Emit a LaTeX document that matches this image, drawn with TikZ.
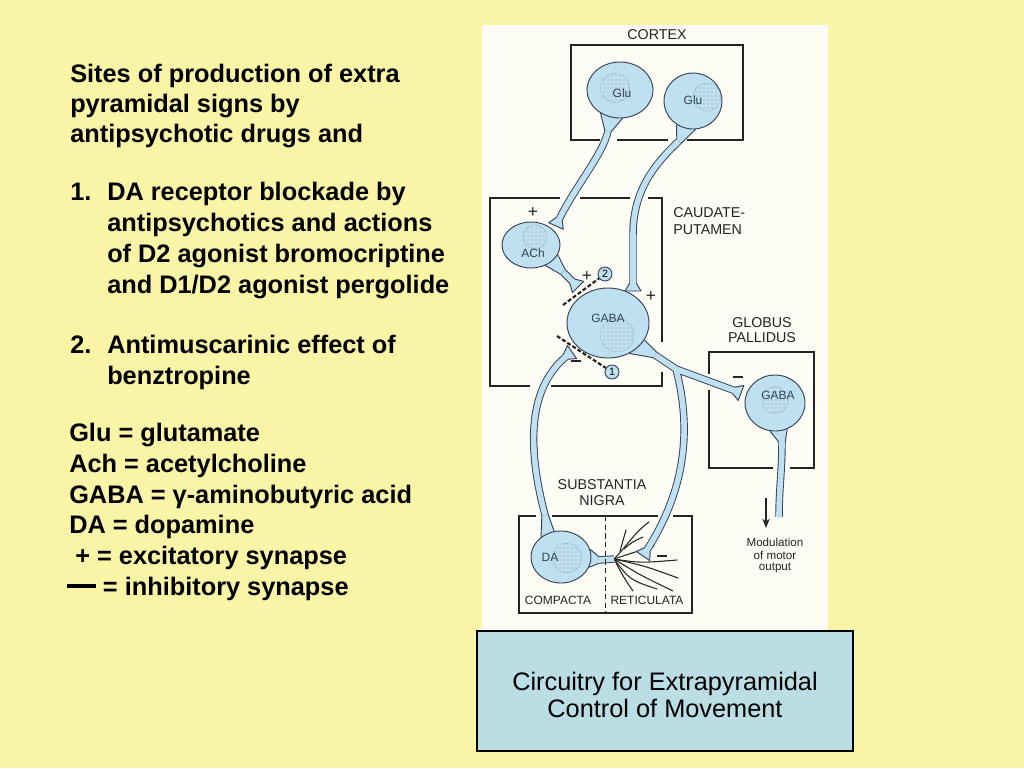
\documentclass[tikz,border=0pt]{standalone}
\usepackage{fontspec}
\setmainfont{Liberation Sans}
\usetikzlibrary{shapes.geometric, calc, patterns, arrows.meta}

\definecolor{bgyellow}{RGB}{249,244,166}
\definecolor{panel}{RGB}{253,253,246}
\definecolor{cellblue}{RGB}{190,224,240}
\definecolor{cellline}{RGB}{55,65,85}
\definecolor{boxline}{RGB}{35,35,35}
\definecolor{captblue}{RGB}{186,222,228}

\pgfdeclarelayer{back}
\pgfdeclarelayer{axon}
\pgfsetlayers{back,axon,main}

\tikzset{
  cell/.style={ellipse, draw=cellline, fill=cellblue, line width=0.7pt, inner sep=0pt},
  celltext/.style={font=\fontsize{9}{10}\selectfont, text=cellline, inner sep=0pt},
  nucleus/.style={draw=cellline!70, densely dotted, line width=0.4pt, pattern=dots, pattern color=cellline!60},
  axon/.style={draw=cellblue, line width=4.2pt, preaction={draw=cellline, line width=5.6pt}},
  dendrite/.style={draw=black!85, line width=0.8pt, line cap=round},
  region/.style={draw=boxline, line width=1pt},
  regtext/.style={font=\fontsize{10.7}{12}\selectfont, text=boxline, inner sep=0pt},
  subtext/.style={font=\fontsize{9}{10}\selectfont, text=boxline, inner sep=0pt},
  modtext/.style={font=\fontsize{8.7}{10}\selectfont, text=boxline, inner sep=0pt},
  sign/.style={font=\fontsize{13}{14}\selectfont, text=boxline, inner sep=0pt},
  site/.style={circle, draw=cellline, fill=cellblue, line width=0.7pt, minimum size=10.5pt, inner sep=0pt, font=\fontsize{8}{9}\selectfont},
  block/.style={draw=boxline, line width=1.6pt, dash pattern=on 3pt off 1.6pt},
  lefttext/.style={anchor=base west, inner sep=0pt, font=\fontsize{19}{22}\selectfont\bfseries},
  capttext/.style={anchor=base, inner sep=0pt, font=\fontsize{19}{22}\selectfont},
  captbox/.style={draw=black, fill=captblue, line width=1pt, minimum width=282pt, minimum height=90pt},
}

% short thick bar for an inhibitory synapse
\newcommand{\inhib}{\rule{7pt}{1.5pt}}
% long bar of the legend
\newcommand{\legbar}{\rule[5.2pt]{21.5pt}{3pt}}

% cone between a cell body and the start of its axon
\newcommand{\hillock}[5]{%
  \fill[cellblue] (#1.#2) -- ($(#4)!2.8pt!-90:(#5)$) -- ($(#4)!2.8pt!90:(#5)$) -- (#1.#3) -- cycle;
  \draw[cellline, line width=0.7pt] (#1.#2) -- ($(#4)!2.45pt!-90:(#5)$) ($(#4)!2.45pt!90:(#5)$) -- (#1.#3);}

% flared axon terminal
\newcommand{\synapse}[2]{%
  \coordinate (sb) at ($(#1)!6pt!(#2)$);
  \fill[cellblue] ($(sb)!2.8pt!90:(#1)$) -- ($(#1)!6pt!-90:(#2)$) -- ($(#1)!6pt!90:(#2)$) -- ($(sb)!2.8pt!-90:(#1)$) -- cycle;
  \draw[cellline, line width=0.7pt, line join=round] ($(sb)!2.45pt!90:(#1)$) -- ($(#1)!6pt!-90:(#2)$) -- ($(#1)!6pt!90:(#2)$) -- ($(sb)!2.45pt!-90:(#1)$);}

\begin{document}
\begin{tikzpicture}[x=0.75pt, y=-0.75pt]
  \useasboundingbox (0,0) rectangle (1024,768);
  \begin{pgfonlayer}{back}
    \fill[bgyellow] (0,0) rectangle (1024,768);
    \fill[panel] (482,25) rectangle (828,640);
  \end{pgfonlayer}

  % Text on the left
  \foreach \x/\y/\txt [count=\i] in {70/82/Sites of production of extra, 70/112/pyramidal signs by, 70/142/antipsychotic drugs and, 70/200/1., 107/200/DA receptor blockade by, 107/231/antipsychotics and actions, 107/262/of D2 agonist bromocriptine, 107/293/{and D1/D2 agonist pergolide}, 70/353/2., 107/353/Antimuscarinic effect of, 107/384/benztropine, 69/441/Glu = glutamate, 69/472/Ach = acetylcholine, 69/503/GABA = γ-aminobutyric acid, 69/533/DA = dopamine, 75/564/+ = excitatory synapse, 67/595/\legbar{} = inhibitory synapse}
    \node[lefttext] (line\i) at (\x,\y) {\txt};

  % Regions
  \draw[region] (600,140) -- (571,140) -- (571,45) -- (743,45) -- (743,140) -- (687,140);
  \draw[region] (617,140) -- (668,140);
  \draw[region] (560,198) -- (490,198) -- (490,386) -- (530,386);
  \draw[region] (580,198) -- (630,198);
  \draw[region] (648,198) -- (662,198) -- (662,342);
  \draw[region] (551,386) -- (662,386) -- (662,372);
  \draw[region] (709,374) -- (709,352) -- (814,352) -- (814,468) -- (790,468);
  \draw[region] (709,390) -- (709,468) -- (773,468);
  \draw[region] (536,516) -- (519,516) -- (519,613) -- (692,613) -- (692,516) -- (673,516);
  \draw[region] (552,516) -- (658,516);
  \draw[boxline, line width=0.6pt, dash pattern=on 4pt off 2.5pt] (605,516) -- (605,613);

  \node[regtext] (cortex) at (657,35) {CORTEX};
  \node[regtext, anchor=west] (caud) at (673,213) {CAUDATE-};
  \node[regtext, anchor=west] (put) at (673,230) {PUTAMEN};
  \node[regtext] (glob) at (762,323) {GLOBUS};
  \node[regtext] (pall) at (762,338) {PALLIDUS};
  \node[regtext] (subs) at (602,485) {SUBSTANTIA};
  \node[regtext] (nigra) at (602,501) {NIGRA};
  \node[subtext] (comp) at (558,600) {COMPACTA};
  \node[subtext] (retic) at (647,600) {RETICULATA};

  % Cell bodies
  \foreach \name/\pos/\cwid/\chgt/\lab/\lpos/\npos/\nr in {
      glu1/{620,90}/49.5/42/Glu/{2,3}/{-5,-2}/11,
      glu2/{693,101}/43.5/42/Glu/{0,-1}/{14,-4}/10.5,
      ach/{531,245}/43.5/34.5/ACh/{2,8}/{4,-8}/9,
      gabas/{608,323}/61.5/52.5/GABA/{0,-5}/{9,12}/12.75,
      gabap/{775,403}/45/42/GABA/{3,-8}/{0,-3}/10,
      da/{561,557}/45/39/DA/{-11,0}/{6,1}/11} {
    \node[cell, minimum width=\cwid pt, minimum height=\chgt pt] (\name) at (\pos) {};
    \draw[nucleus] ([shift={(\npos)}]\name.center) circle (\nr pt);
    \node[celltext] (\name-t) at ([shift={(\lpos)}]\name.center) {\lab};
  }

  % Axon ends
  \coordinate (n1) at (608,131);
  \coordinate (t1) at (556,226);
  \coordinate (n2) at (679,141);
  \coordinate (t2) at (633,291);
  \coordinate (n3) at (563,272);
  \coordinate (t3) at (578,287);
  \coordinate (n4) at (655,355);
  \coordinate (br) at (676,369);
  \coordinate (t4gp) at (741,393);
  \coordinate (t4sn) at (643,556);
  \coordinate (n5) at (545,515);
  \coordinate (t5) at (572,352);
  \coordinate (n6) at (599,560);
  \coordinate (d0) at (614,559);
  \coordinate (n7) at (782,442);
  \coordinate (e7) at (779,517);

  \begin{pgfonlayer}{axon}
    % Dendrites in reticulata
    \draw[dendrite] (d0) .. controls (625,548) and (635,532) .. (649,522);
    \draw[dendrite] (620,551) -- (626,530);
    \draw[dendrite] (624,549) .. controls (632,542) .. (643,537);
    \draw[dendrite] (d0) .. controls (632,553) .. (654,546);
    \draw[dendrite] (d0) .. controls (640,563) .. (677,560);
    \draw[dendrite] (d0) .. controls (645,566) .. (678,578);
    \draw[dendrite] (d0) .. controls (640,575) .. (673,591);
    \draw[dendrite] (d0) .. controls (630,580) .. (657,589);
    \draw[dendrite] (d0) .. controls (624,578) .. (633,591);

    % Axons
    \hillock{glu1}{-130}{-85}{n1}{603,155}
    \draw[axon] (n1) .. controls (603,155) and (572,190) .. (t1);
    \synapse{t1}{572,190}

    \hillock{glu2}{-125}{-85}{n2}{650,168}
    \draw[axon] (n2) .. controls (650,168) and (633,195) .. (633,235) -- (t2);
    \synapse{t2}{633,235}

    \hillock{ach}{-55}{-20}{n3}{t3}
    \draw[axon] (n3) -- (t3);
    \synapse{t3}{n3}

    \hillock{gabas}{-55}{-25}{n4}{br}
    \draw[axon] (n4) -- (br) -- (t4gp) (br) .. controls (692,430) and (686,492) .. (t4sn);
    \synapse{t4gp}{br}
    \synapse{t4sn}{686,492}

    \hillock{da}{105}{135}{n5}{528,450}
    \draw[axon] (n5) .. controls (528,450) and (525,385) .. (t5);
    \synapse{t5}{525,385}

    \hillock{da}{-20}{15}{n6}{d0}
    \draw[axon] (n6) -- (d0);

    \hillock{gabap}{-100}{-65}{n7}{782,470}
    \draw[axon] (n7) .. controls (782,470) and (779,490) .. (e7);
  \end{pgfonlayer}

  % Synapse signs
  \node[sign] (p1) at (533,212) {+};
  \node[sign] (p2) at (587,276) {+};
  \node[sign] (p3) at (651,296) {+};
  \node[sign] (m1) at (576,361) {\inhib};
  \node[sign] (m2) at (738,377) {\inhib};
  \node[sign] (m3) at (662,556) {\inhib};

  % Drug action sites
  \node[site] (s2) at (605,274) {2};
  \node[site] (s1) at (612,372) {1};
  \coordinate (b2) at (563,305);
  \coordinate (b1) at (557,336);
  \draw[block] (b2) -- (s2);
  \draw[block] (b1) -- (s1);

  % Output
  \coordinate (aro1) at (766,498);
  \coordinate (aro2) at (766,528);
  \draw[-{Stealth[length=7pt,width=5.5pt]}, draw=boxline, line width=0.9pt] (aro1) -- (aro2);
  \node[modtext] (mod1) at (775,542) {Modulation};
  \node[modtext] (mod2) at (775,555) {of motor};
  \node[modtext] (mod3) at (775,568) {output};

  % Caption
  \node[captbox] (capt) at (665,691) {};
  \foreach \y/\txt [count=\i] in {690/Circuitry for Extrapyramidal, 717/Control of Movement}
    \node[capttext] (capt\i) at (665,\y) {\txt};
\end{tikzpicture}
\end{document}
